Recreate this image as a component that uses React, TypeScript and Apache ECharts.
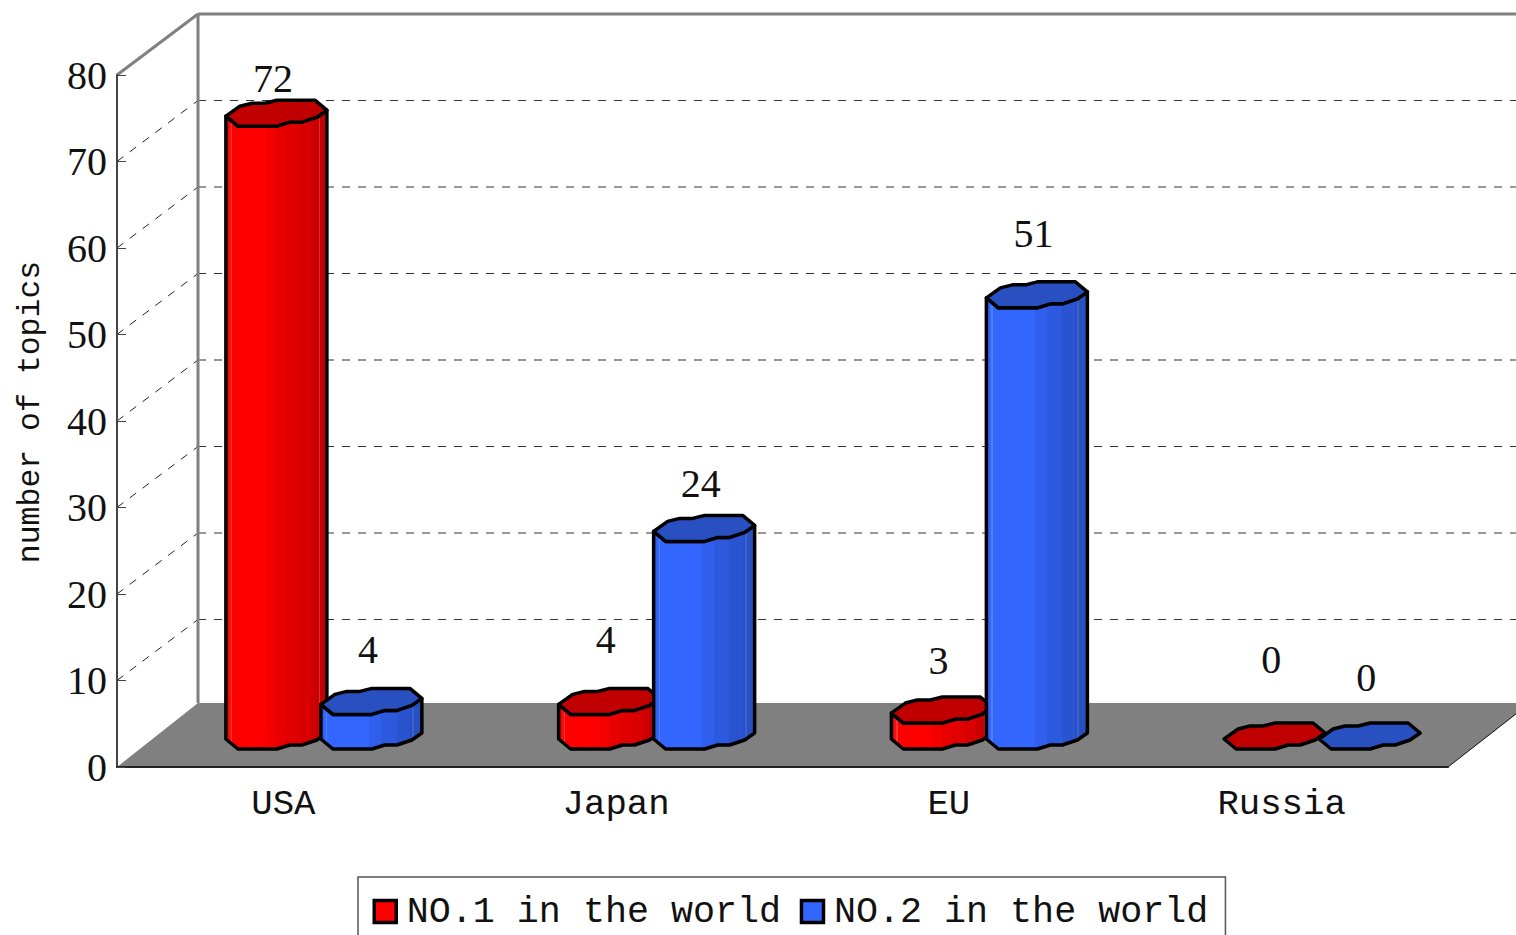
import React, { useEffect, useRef } from "react";
import * as echarts from "echarts";

const categories = ["USA", "Japan", "EU", "Russia"];
const no1Name = "NO.1 in the world";
const no2Name = "NO.2 in the world";
const no1Values = [72, 4, 3, 0];
const no2Values = [4, 24, 51, 0];
const yTicks = [0, 10, 20, 30, 40, 50, 60, 70, 80];

// Hand-placed label lifts above each bar's left corner (layout, not data)
const no1LabelLift = [38, 65, 53, 80];
const no2LabelLift = [55, 48, 64, 62];

const GRID = { left: 117, top: 75, width: 1331, height: 692 };
const DEPTH_X = 81;
const DEPTH_Y = 61;
const FLOOR_Y = 64;
const BAR_LIFT = 28;
const SERIF = "'Liberation Serif', serif";
const MONO = "'Liberation Mono', monospace";

// Outline of the faceted column, relative to its left corner
const frontEdge = [[0, 0], [12, 10], [51, 10], [64, 6], [76, 6], [91, 1], [101, -6]];
const backEdge = [[89, -16], [51, -16], [39, -13], [26, -13], [14, -10]];

const redFacets = [
  [0, "#e80808"], [0.03, "#f41010"], [0.05, "#ff3030"], [0.065, "#ff0000"], [0.35, "#ff0000"],
  [0.4, "#f40000"], [0.5, "#e80000"], [0.6, "#e00000"], [0.72, "#d80000"], [0.84, "#cc0000"],
  [0.9, "#c80000"], [0.92, "#d83030"], [0.935, "#c40000"], [1, "#c00000"],
];
const blueFacets = [
  [0, "#2f5ee8"], [0.03, "#3366ff"], [0.05, "#5080ff"], [0.065, "#3366ff"], [0.38, "#3366ff"],
  [0.48, "#305fee"], [0.6, "#2d59de"], [0.75, "#2a54cf"], [0.88, "#2850c4"],
  [0.9, "#3a62cc"], [0.92, "#2850c0"], [1, "#2850c0"],
];

function gradient(stops: any[]) {
  const out: any[] = [];
  stops.forEach((s, i) => {
    out.push({ offset: s[0], color: s[1] });
    if (i + 1 < stops.length) out.push({ offset: stops[i + 1][0], color: s[1] });
  });
  return new echarts.graphic.LinearGradient(0, 0, 1, 0, out);
}

function barSeries(name: string, values: number[], lifts: number[], offsetX: number, facets: any[], top: string) {
  const fill = gradient(facets);
  return {
    type: "custom",
    name,
    z: 3,
    clip: false,
    encode: { x: 0, y: 1 },
    data: values.map((v, i) => [i, v]),
    itemStyle: { color: facets[4][1] },
    renderItem: (_: any, api: any) => {
      const cat = api.value(0);
      const val = api.value(1);
      const [cx, vy] = api.coord([cat, val]);
      const [, y0] = api.coord([cat, 0]);
      const x = cx + offsetX;
      const yTop = vy - BAR_LIFT;
      const yBase = y0 - BAR_LIFT;
      const topFront = frontEdge.map((p) => [x + p[0], yTop + p[1]]);
      const baseFront = frontEdge.map((p) => [x + p[0], yBase + p[1]]);
      const topBack = backEdge.map((p) => [x + p[0], yTop + p[1]]);
      const stroke = { stroke: "#000", lineWidth: 3.5, lineJoin: "round" };
      const children: any[] = [];
      if (val > 0) {
        children.push({
          type: "polygon",
          shape: { points: [...baseFront, ...topFront.slice().reverse()] },
          style: { fill, ...stroke },
        });
      }
      children.push({
        type: "polygon",
        shape: { points: [...topFront, ...topBack] },
        style: { fill: top, ...stroke },
      });
      children.push({
        type: "text",
        style: {
          text: String(val),
          x: x + 47,
          y: yTop - lifts[cat],
          align: "center",
          verticalAlign: "middle",
          font: `40px ${SERIF}`,
          fill: "#111",
        },
      });
      return { type: "group", children };
    },
  };
}

function buildOption() {
  return {
    animation: false,
    backgroundColor: "#fff",
    grid: { ...GRID, containLabel: false, outerBoundsMode: "none" },
    legend: {
      left: 358,
      top: 877,
      orient: "horizontal",
      padding: [16, 17.2, 30, 14.5],
      itemGap: 18.7,
      itemWidth: 22,
      itemHeight: 22,
      borderColor: "#555",
      borderWidth: 1.5,
      selectedMode: false,
      textStyle: { fontFamily: MONO, fontSize: 36.7, color: "#111", padding: [10, 0, 0, 5.5] },
      data: [
        { name: no1Name, icon: "rect", itemStyle: { color: "#ff0000", borderColor: "#000", borderWidth: 3.5 } },
        { name: no2Name, icon: "rect", itemStyle: { color: "#3366ff", borderColor: "#000", borderWidth: 3.5 } },
      ],
    },
    xAxis: {
      type: "category",
      data: categories,
      z: 5,
      axisLine: { lineStyle: { color: "#222", width: 2 } },
      axisTick: { inside: true, length: 9, lineStyle: { color: "#333", width: 1 } },
      axisLabel: { fontFamily: MONO, fontSize: 35.7, color: "#111", margin: 19 },
    },
    yAxis: {
      type: "value",
      min: 0,
      max: 80,
      interval: 10,
      z: 5,
      name: "number of topics",
      nameLocation: "middle",
      nameRotate: 90,
      nameGap: 71,
      nameMoveOverlap: false,
      nameTextStyle: { fontFamily: MONO, fontSize: 31.5, color: "#111", padding: [0, 0, 0, 18] },
      axisLine: { show: true, lineStyle: { color: "#444", width: 2 } },
      axisTick: { show: true, inside: true, length: 9, lineStyle: { color: "#444", width: 1 } },
      axisLabel: { fontFamily: SERIF, fontSize: 40, color: "#111", margin: 10, padding: [4, 0, 0, 0] },
      splitLine: { show: false },
    },
    series: [
      {
        type: "custom",
        name: "floor",
        z: 1,
        clip: false,
        encode: { x: 0, y: 1 },
        data: [[0, 0]],
        silent: true,
        renderItem: (params: any, api: any) => {
          const c = params.coordSys;
          const right = c.x + c.width;
          const bottom = c.y + c.height;
          return {
            type: "group",
            children: [
              {
                type: "polygon",
                shape: {
                  points: [
                    [c.x, bottom],
                    [c.x + DEPTH_X, bottom - FLOOR_Y],
                    [api.getWidth() + 20, bottom - FLOOR_Y],
                    [right + 82, bottom - FLOOR_Y],
                    [right, bottom],
                  ],
                },
                style: { fill: "#808080" },
              },
              {
                type: "line",
                shape: { x1: right, y1: bottom, x2: right + 82, y2: bottom - FLOOR_Y },
                style: { stroke: "#111", lineWidth: 1 },
              },
            ],
          };
        },
      },
      {
        type: "custom",
        name: "walls",
        z: 2,
        clip: false,
        encode: { y: 0 },
        data: yTicks.filter((t) => t > 0 && t < 80).map((t) => [t]),
        silent: true,
        renderItem: (params: any, api: any) => {
          const c = params.coordSys;
          const y = api.coord([0, api.value(0)])[1];
          return {
            type: "group",
            children: [
              {
                type: "line",
                shape: { x1: c.x, y1: y, x2: c.x + DEPTH_X, y2: y - DEPTH_Y },
                style: { stroke: "#222", lineWidth: 1, lineDash: [8, 8] },
              },
              {
                type: "line",
                shape: { x1: c.x + DEPTH_X, y1: y - DEPTH_Y, x2: api.getWidth() + 20, y2: y - DEPTH_Y },
                style: { stroke: "#333", lineWidth: 1.2, lineDash: [8, 8] },
              },
            ],
          };
        },
      },
      {
        type: "custom",
        name: "frame",
        z: 2,
        clip: false,
        encode: { x: 0, y: 1 },
        data: [[0, 80]],
        silent: true,
        renderItem: (params: any, api: any) => {
          const c = params.coordSys;
          const bx = c.x + DEPTH_X;
          const by = c.y - DEPTH_Y;
          const st = { stroke: "#808080", lineWidth: 3 };
          return {
            type: "group",
            children: [
              { type: "line", shape: { x1: c.x, y1: c.y, x2: bx, y2: by }, style: st },
              { type: "line", shape: { x1: bx, y1: by, x2: api.getWidth() + 20, y2: by }, style: st },
              { type: "line", shape: { x1: bx, y1: by, x2: bx, y2: c.y + c.height - FLOOR_Y }, style: st },
            ],
          };
        },
      },
      barSeries(no1Name, no1Values, no1LabelLift, -57.5, redFacets, "#c00000"),
      barSeries(no2Name, no2Values, no2LabelLift, 37.5, blueFacets, "#2850c0"),
    ],
  };
}

export default function App() {
  const ref = useRef<HTMLDivElement>(null);
  useEffect(() => {
    const chart = echarts.init(ref.current!, undefined, { renderer: "svg" });
    chart.setOption(buildOption() as any);
    return () => chart.dispose();
  }, []);
  return (
    <div
      ref={ref}
      style={{ position: "absolute", left: 0, top: 0, width: 1516, height: 935, overflow: "hidden" }}
    />
  );
}
